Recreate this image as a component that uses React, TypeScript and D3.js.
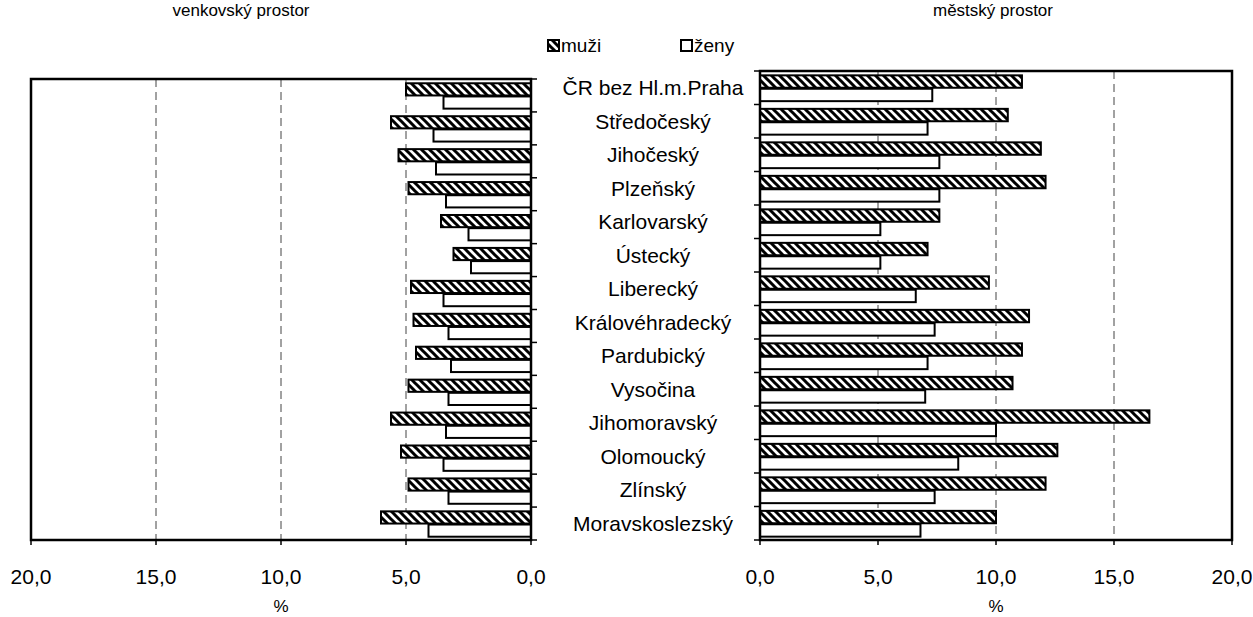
import React from "react";
import * as d3 from "d3";

const categories = [
  "ČR bez Hl.m.Praha",
  "Středočeský",
  "Jihočeský",
  "Plzeňský",
  "Karlovarský",
  "Ústecký",
  "Liberecký",
  "Královéhradecký",
  "Pardubický",
  "Vysočina",
  "Jihomoravský",
  "Olomoucký",
  "Zlínský",
  "Moravskoslezský",
];

const ruralMen = [5.0, 5.6, 5.3, 4.9, 3.6, 3.1, 4.8, 4.7, 4.6, 4.9, 5.6, 5.2, 4.9, 6.0];
const ruralWomen = [3.5, 3.9, 3.8, 3.4, 2.5, 2.4, 3.5, 3.3, 3.2, 3.3, 3.4, 3.5, 3.3, 4.1];
const urbanMen = [11.1, 10.5, 11.9, 12.1, 7.6, 7.1, 9.7, 11.4, 11.1, 10.7, 16.5, 12.6, 12.1, 10.0];
const urbanWomen = [7.3, 7.1, 7.6, 7.6, 5.1, 5.1, 6.6, 7.4, 7.1, 7.0, 10.0, 8.4, 7.4, 6.8];

const tickValues = [0, 5, 10, 15, 20];
const gridValues = [5, 10, 15];
const fmt = (v: number) => v.toFixed(1).replace(".", ",");

const FONT = "'Liberation Sans', Arial, sans-serif";

type PanelProps = {
  x0: number;
  x1: number;
  top: number;
  bottom: number;
  men: number[];
  women: number[];
  side: "left" | "right";
};

function Panel({ x0, x1, top, bottom, men, women, side }: PanelProps) {
  const x = d3.scaleLinear().domain([0, 20]).range([x0, x1]);
  const y = d3.scaleBand<string>().domain(categories).range([top, bottom]).padding(0);
  const bw = y.bandwidth();
  const left = Math.min(x0, x1);
  const right = Math.max(x0, x1);
  const bars = categories.map((c, i) => {
    const b = y(c)!;
    const hm = 0.37 * bw;
    const ym = b + 0.13 * bw;
    const yw = b + 0.53 * bw;
    const mx = Math.min(x(0), x(men[i]));
    const wx = Math.min(x(0), x(women[i]));
    return (
      <g key={c}>
        <rect x={mx} y={ym} width={Math.abs(x(men[i]) - x(0))} height={hm} fill="url(#hatch)" stroke="#000" strokeWidth={2} />
        <rect x={wx} y={yw} width={Math.abs(x(women[i]) - x(0))} height={hm} fill="#fff" stroke="#000" strokeWidth={2} />
      </g>
    );
  });
  const boundaries = d3.range(categories.length + 1).map((i) => top + i * bw);
  const tickDir = side === "left" ? 6 : -6;
  return (
    <g>
      {gridValues.map((g) => (
        <line key={g} x1={x(g)} x2={x(g)} y1={top} y2={bottom} stroke="#444" strokeWidth={1} strokeDasharray="8,5" />
      ))}
      {bars}
      <rect x={left} y={top} width={right - left} height={bottom - top} fill="none" stroke="#000" strokeWidth={2.5} />
      {boundaries.map((by, i) => (
        <line key={i} x1={x(0)} x2={x(0) + tickDir} y1={by} y2={by} stroke="#000" strokeWidth={1.5} />
      ))}
      {tickValues.map((t) => (
        <g key={t}>
          <line x1={x(t)} x2={x(t)} y1={bottom} y2={bottom + 5} stroke="#000" strokeWidth={1.5} />
          <text x={x(t)} y={584} textAnchor="middle" fontSize={21} fontFamily={FONT} fill="#000">
            {fmt(t)}
          </text>
        </g>
      ))}
      <text x={x(10)} y={612} textAnchor="middle" fontSize={17} fontFamily={FONT} fill="#000">
        %
      </text>
    </g>
  );
}

export default function App() {
  const rightTop = 71;
  const rightBottom = 540;
  const yLab = d3.scaleBand<string>().domain(categories).range([rightTop, rightBottom]).padding(0);
  return (
    <svg width={1253} height={617} style={{ position: "absolute", left: 0, top: 0, background: "#fff" }}>
      <defs>
        <pattern id="hatch" patternUnits="userSpaceOnUse" width={8} height={8}>
          <rect width={8} height={8} fill="#fff" />
          <path d="M-2,6 L2,10 M0,0 L8,8 M6,-2 L10,2" stroke="#000" strokeWidth={3} />
        </pattern>
      </defs>
      <rect width={1253} height={617} fill="#fff" />
      <text x={241} y={16} textAnchor="middle" fontSize={17} fontFamily={FONT} fill="#000">
        venkovský prostor
      </text>
      <text x={993} y={16} textAnchor="middle" fontSize={17} fontFamily={FONT} fill="#000">
        městský prostor
      </text>
      <g>
        <rect x={548} y={40} width={11} height={11} fill="url(#hatch)" stroke="#000" strokeWidth={2} />
        <text x={561} y={52} fontSize={19} fontFamily={FONT} fill="#000">muži</text>
        <rect x={681} y={40} width={11} height={11} fill="#fff" stroke="#000" strokeWidth={2} />
        <text x={694} y={52} fontSize={19} fontFamily={FONT} fill="#000">ženy</text>
      </g>
      <Panel x0={531} x1={31} top={79} bottom={540} men={ruralMen} women={ruralWomen} side="left" />
      <Panel x0={760} x1={1232} top={rightTop} bottom={rightBottom} men={urbanMen} women={urbanWomen} side="right" />
      {categories.map((c) => (
        <text key={c} x={653} y={yLab(c)! + yLab.bandwidth() / 2} dominantBaseline="central" textAnchor="middle" fontSize={21} fontFamily={FONT} fill="#000">
          {c}
        </text>
      ))}
    </svg>
  );
}
